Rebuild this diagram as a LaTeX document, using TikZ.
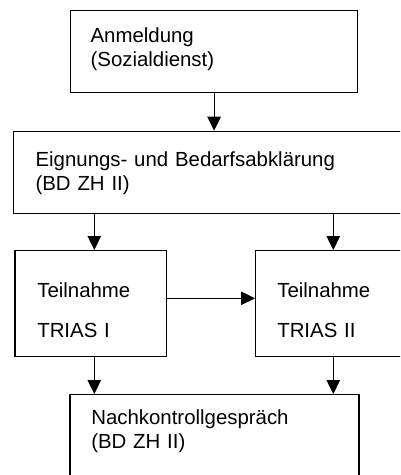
\documentclass[tikz,border=0pt]{standalone}
\usepackage{fontspec}
\setmainfont{Liberation Sans}
\usetikzlibrary{arrows.meta,positioning}
\begin{document}
\begin{tikzpicture}[x=1pt,y=-1pt,
    box/.style={draw, line width=1.2pt, anchor=north west, align=left, inner ysep=0pt,
      text height=15pt, font=\fontsize{20.4}{24}\selectfont},
    flow/.style={line width=1.2pt, -{Triangle[width=13.5pt,length=14pt]}}]

    \useasboundingbox (0,0) rectangle (400,475);
    \clip (0,0) rectangle (400,475);

    %% Kaesten
    \node[box, inner xsep=20pt, text width=247pt, minimum height=82pt, text depth=33.6pt]
      (anm) at (70,10) {Anmeldung\\(Sozialdienst)};
    \node[box, inner xsep=22pt, text width=363pt, minimum height=82pt, text depth=27pt]
      (abkl) at (13,130.7) {Eignungs- und Bedarfsabklärung\\(BD ZH II)};
    \node[box, inner xsep=22.4pt, text width=106.6pt, minimum height=106pt, text depth=27.6pt]
      (trias1) at (14.3,250) {Teilnahme\\[16pt]TRIAS I};
    \node[box, inner xsep=21.7pt, text width=121.6pt, minimum height=106pt, text depth=27.6pt]
      (trias2) at (255,250) {Teilnahme\\[16pt]TRIAS II};
    \node[box, inner xsep=21.4pt, text width=246.2pt, minimum height=100pt, text depth=55pt]
      (nachk) at (69.3,394) {Nachkontrollgespräch\\(BD ZH II)};

    %% Hilfspunkte fuer die Pfeile
    \coordinate (lx) at (94.3,0);
    \coordinate (rx) at (333.3,0);
    \coordinate (hy) at (0,298.3);

    %% Pfeile
    \draw[flow] (anm.south) -- (anm.south |- abkl.north);
    \draw[flow] (abkl.south -| lx) -- (trias1.north -| lx);
    \draw[flow] (abkl.south -| rx) -- (trias2.north -| rx);
    \draw[flow] (trias1.east |- hy) -- (trias2.west |- hy);
    \draw[flow] (trias1.south -| lx) -- (nachk.north -| lx);
    \draw[flow] (trias2.south -| rx) -- (nachk.north -| rx);
\end{tikzpicture}
\end{document}
